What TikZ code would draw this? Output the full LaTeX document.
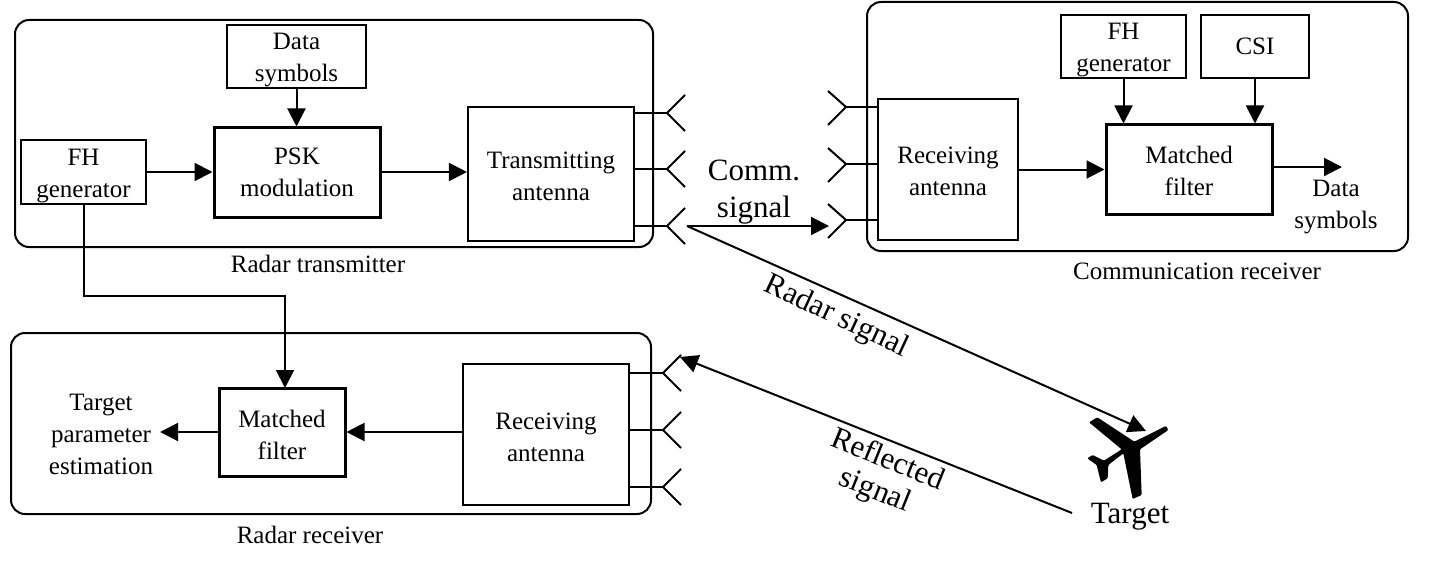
\documentclass[tikz,border=0pt]{standalone}
\usepackage{fontspec}
\setmainfont{Liberation Serif}
\usetikzlibrary{arrows.meta,calc}
\tikzset{
 boxa/.style={draw,line width=2.1pt,minimum width=#1,inner sep=0pt},
 boxb/.style={boxa=#1,line width=3pt},
 groupbox/.style={draw,line width=2pt,rounded corners=14pt,inner sep=0pt},
 lab/.style={align=center,inner sep=0pt,font=\fontsize{25}{32}\selectfont},
 biglab/.style={align=center,inner sep=0pt,font=\fontsize{31}{37}\selectfont},
 conn/.style={line width=2pt,-{Triangle[length=18pt,width=18pt]}},
 wire/.style={line width=2pt},
}
\newcommand{\antR}[2]{% apex to the left, opens right
 \coordinate (#1) at #2;
 \draw[wire] ($(#1)+(18,-18)$) -- (#1) -- ($(#1)+(18,18)$);}
\newcommand{\antL}[2]{% apex to the right, opens left
 \coordinate (#1) at #2;
 \draw[wire] ($(#1)+(-18,-16)$) -- (#1) -- ($(#1)+(-18,18)$);}
\begin{document}
\begin{tikzpicture}[x=1pt,y=-1pt]
\useasboundingbox (0,0) rectangle (1429,567);
% group frames
\node[groupbox,minimum width=638pt,minimum height=227pt] (gtx) at (334,133.5) {};
\node[groupbox,minimum width=541pt,minimum height=249pt] (gcr) at (1137.5,126.5) {};
\node[groupbox,minimum width=640pt,minimum height=181pt] (grr) at (331,423.5) {};
% radar transmitter
\node[boxa=139pt,minimum height=63pt,line width=2.6pt] (data) at (296.5,56.5) {};
\node[lab] (datat) at ($(data)+(0,3.5)$) {Data\\symbols};
\node[boxb=166pt,minimum height=89pt] (psk) at (297,172.5) {};
\node[lab] (pskt) at (psk) {PSK\\modulation};
\node[boxa=125pt,minimum height=64pt] (fh1) at (83.5,172) {};
\node[lab] (fh1t) at ($(fh1)+(0,4)$) {FH\\generator};
\node[boxa=166pt,minimum height=134pt] (txa) at (551,174) {};
\node[lab] (txat) at ($(txa)+(0,2)$) {Transmitting\\antenna};
% communication receiver
\node[boxa=125pt,minimum height=63pt] (fh2) at (1123.5,46.5) {};
\node[lab] (fh2t) at ($(fh2)+(0,4)$) {FH\\generator};
\node[boxa=108pt,minimum height=63pt] (csi) at (1255,46.5) {};
\node[lab] (csit) at (csi) {CSI};
\node[boxb=166pt,minimum height=89pt] (mf1) at (1189,169.5) {};
\node[lab] (mf1t) at ($(mf1)+(0,1)$) {Matched\\filter};
\node[boxa=140pt,minimum height=141pt] (rxa1) at (948,169.5) {};
\node[lab] (rxa1t) at ($(rxa1)+(0,2)$) {Receiving\\antenna};
% radar receiver
\node[boxb=126pt,minimum height=88pt] (mf2) at (282,432) {};
\node[lab] (mf2t) at ($(mf2)+(0,2.5)$) {Matched\\filter};
\node[boxa=166pt,minimum height=141pt] (rxa2) at (546,434.5) {};
\node[lab] (rxa2t) at ($(rxa2)+(0,2.5)$) {Receiving\\antenna};
% labels
\node[lab] (l1) at (318,264) {Radar transmitter};
\node[lab] (l2) at (1197,271) {Communication receiver};
\node[lab] (l3) at (310,535) {Radar receiver};
\node[lab,anchor=north] (ds) at (1336,180) {Data\\symbols};
\node[lab] (tp) at (101,434) {Target\\parameter\\estimation};
\node[biglab] (cs) at (754,192) {Comm.\\signal};
\node[biglab,rotate=-25] (rs) at (836,317) {Radar signal};
\node[biglab,rotate=-22,font=\fontsize{31}{33}\selectfont] (rf) at (881,476) {Reflected\\signal};
\node[biglab] (tg) at (1130,517) {Target};
% antennas
\antR{a1}{(667,113)}\antR{a2}{(667,169)}\antR{a3}{(667,226)}
\antL{b1}{(846,107)}\antL{b2}{(846,164)}\antL{b3}{(846,220)}
\antR{c1}{(663,373)}\antR{c2}{(663,430)}\antR{c3}{(663,487)}
\draw[wire] (txa.east|-a1) -- (a1);
\draw[wire] (txa.east|-a2) -- (a2);
\draw[wire] (txa.east|-a3) -- (a3);
\draw[wire] (b1) -- (rxa1.west|-b1);
\draw[wire] (b2) -- (rxa1.west|-b2);
\draw[wire] (b3) -- (rxa1.west|-b3);
\draw[wire] (rxa2.east|-c1) -- (c1);
\draw[wire] (rxa2.east|-c2) -- (c2);
\draw[wire] (rxa2.east|-c3) -- (c3);
% connectors
\draw[conn] (data.south) -- (psk.north-|data.south);
\draw[conn] (fh1.east) -- (psk.west|-fh1.east);
\draw[conn] (psk.east|-fh1.east) -- (txa.west|-fh1.east);
\draw[conn] (rxa1.east) -- (mf1.west);
\draw[conn] (fh2.south) -- (mf1.north-|fh2.south);
\draw[conn] (csi.south) -- (mf1.north-|csi.south);
\coordinate (dout) at (1342,167);
\draw[conn] (mf1.east|-dout) -- (dout);
\coordinate (fhturn) at (83.5,296);
\coordinate (fhdrop) at (285,388);
\draw[conn] (fh1.south) -- (fhturn) -| (fhdrop);
\draw[conn] (rxa2.west|-mf2.east) -- (mf2.east);
\coordinate (tpin) at (160,432);
\draw[conn] (mf2.west) -- (tpin);
\coordinate (tx0) at (687,226);
\coordinate (cend) at (829,226);
\coordinate (tend) at (1146,431);
\coordinate (rf0) at (1072,513);
\coordinate (rfend) at (680,357);
\draw[conn] (tx0) -- (cend);
\draw[conn] (tx0) -- (tend);
\draw[conn] (rf0) -- (rfend);
% aircraft
\begin{scope}[shift={(1040,390)},x=0.3333pt,y=-0.3333pt]
\fill[black,rounded corners=1pt] (378,108) -- (385,120) -- (300,178) -- (305,315) -- (278,327) -- (250,190) -- (205,225) -- (203,265) -- (183,277) -- (170,225) -- (142,205) -- (158,195) -- (192,212) -- (245,178) -- (147,97) -- (172,82) -- (283,155) -- cycle;
\end{scope}
\end{tikzpicture}
\end{document}
